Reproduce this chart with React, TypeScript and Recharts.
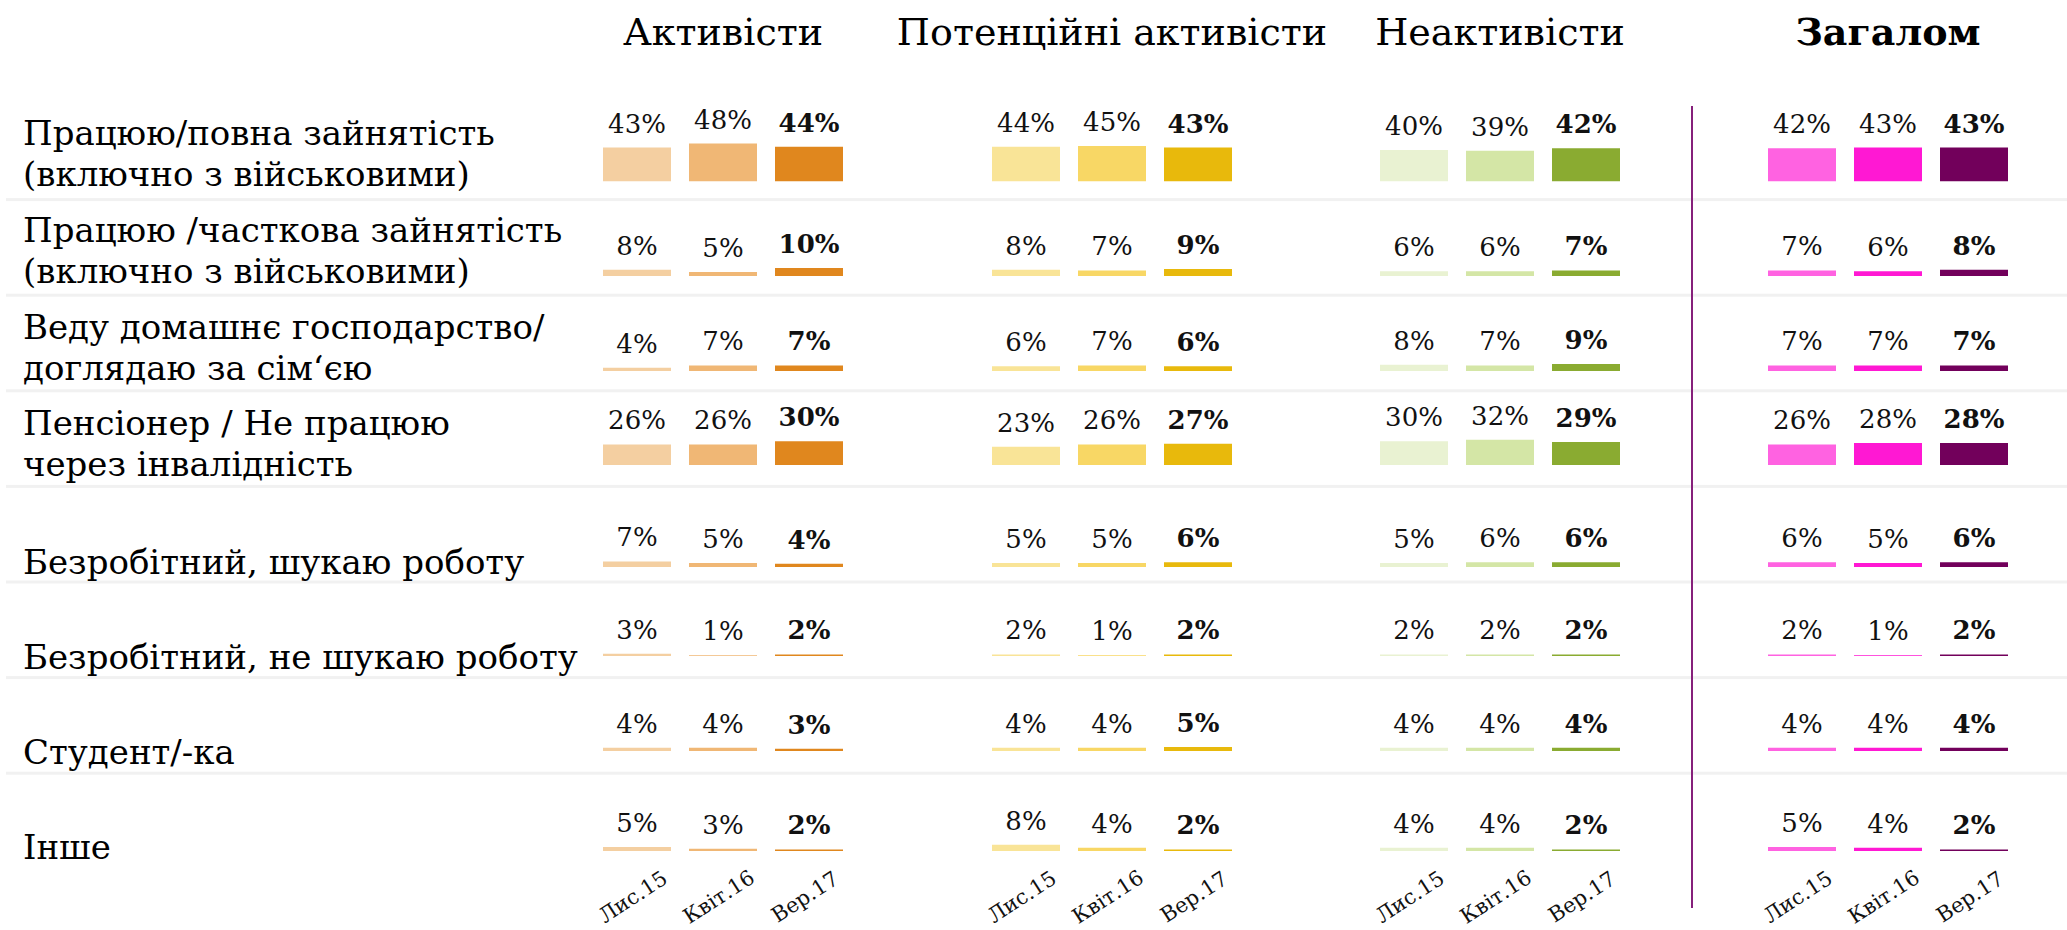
import React from 'react';
import { Bar, BarChart, Cell, LabelList, XAxis, YAxis } from 'recharts';

const FONT = '"DejaVu Serif", Georgia, serif';

// data
const periods = ['Лис.15', 'Квіт.16', 'Вер.17'];
const groups = ['Активісти', 'Потенційні активісти', 'Неактивісти', 'Загалом'];
const rowLabels = [
  ['Працюю/повна зайнятість', '(включно з військовими)'],
  ['Працюю /часткова зайнятість', '(включно з військовими)'],
  ['Веду домашнє господарство/', 'доглядаю за сім‘єю'],
  ['Пенсіонер / Не працюю', 'через інвалідність'],
  ['Безробітний, шукаю роботу'],
  ['Безробітний, не шукаю роботу'],
  ['Студент/-ка'],
  ['Інше'],
];
const activists = [[43, 48, 44], [8, 5, 10], [4, 7, 7], [26, 26, 30], [7, 5, 4], [3, 1, 2], [4, 4, 3], [5, 3, 2]];
const potential = [[44, 45, 43], [8, 7, 9], [6, 7, 6], [23, 26, 27], [5, 5, 6], [2, 1, 2], [4, 4, 5], [8, 4, 2]];
const inactive = [[40, 39, 42], [6, 6, 7], [8, 7, 9], [30, 32, 29], [5, 6, 6], [2, 2, 2], [4, 4, 4], [4, 4, 2]];
const total = [[42, 43, 43], [7, 6, 8], [7, 7, 7], [26, 28, 28], [6, 5, 6], [2, 1, 2], [4, 4, 4], [5, 4, 2]];
const groupValues = [activists, potential, inactive, total];

const palettes = [
  ['#F4CFA1', '#F0B775', '#E0871E'],
  ['#F9E497', '#F8D765', '#E8B90C'],
  ['#E9F2D2', '#D4E6A6', '#8AAB31'],
  ['#FF62E1', '#FF18D3', '#72005B'],
];

// layout
const ROW_TOP0 = 103.5;
const ROW_H = 95.6;
const BASE_OFF = [77.5, 77, 76, 75, 81, 74, 74, 78];
const LABEL_BASE = [82, 84, 85, 86, 88, 87, 87, 86];
const PX_PER_PCT = 0.79;
const GROUP_CX = [723, 1112, 1500, 1888];
const BAND = 86;
const SIDE = 24;
const AXIS_H = 78.5;

const renderTick = (props: any) => {
  const { x, y, payload } = props;
  const cx = x - 4;
  const cy = y + 46;
  return (
    <text
      x={cx}
      y={cy}
      textAnchor="middle"
      dominantBaseline="central"
      transform={`rotate(-33 ${cx} ${cy})`}
      fontFamily={FONT}
      fontSize={21}
      fill="#111"
    >
      {payload.value}
    </text>
  );
};

const renderValue = (props: any) => {
  const { x, y, width, value, index } = props;
  return (
    <text
      x={Number(x) + Number(width) / 2}
      y={Number(y) - 15}
      textAnchor="middle"
      fontFamily={FONT}
      fontSize={26}
      fontWeight={index === 2 ? 'bold' : 'normal'}
      fill="#111"
    >
      {value}%
    </text>
  );
};

function CellChart({ g, r }: { g: number; r: number }) {
  const values = groupValues[g][r];
  const data = periods.map((p, i) => ({ p, v: values[i] }));
  const last = r === rowLabels.length - 1;
  const base = BASE_OFF[r];
  const height = last ? base + AXIS_H : base + 4;
  const top = ROW_TOP0 + ROW_H * r;
  return (
    <div style={{ position: 'absolute', left: GROUP_CX[g] - BAND * 1.5 - SIDE, top }}>
      <BarChart
        width={BAND * 3 + SIDE * 2}
        height={height}
        data={data}
        margin={{ top: 0, right: SIDE, bottom: last ? 0 : 4, left: SIDE }}
      >
        <XAxis
          dataKey="p"
          hide={!last}
          height={AXIS_H}
          interval={0}
          axisLine={false}
          tickLine={false}
          tickSize={0}
          tickMargin={0}
          tick={renderTick}
        />
        <YAxis hide type="number" domain={[0, base / PX_PER_PCT]} allowDataOverflow />
        <Bar dataKey="v" barSize={68} isAnimationActive={false}>
          {data.map((d, i) => (
            <Cell key={d.p} fill={palettes[g][i]} />
          ))}
          <LabelList dataKey="v" content={renderValue} />
        </Bar>
      </BarChart>
    </div>
  );
}

export default function App() {
  return (
    <div style={{ position: 'absolute', left: 0, top: 0, width: 2067, height: 930, background: '#fff', overflow: 'hidden' }}>
      <svg width={2067} height={930} style={{ position: 'absolute', left: 0, top: 0 }}>
        {rowLabels.slice(0, -1).map((_, r) => (
          <rect key={r} x={6} y={ROW_TOP0 + ROW_H * (r + 1) - 1} width={2061} height={3} fill="#F1F1F1" />
        ))}
        {groups.map((name, g) => (
          <text
            key={name}
            x={GROUP_CX[g]}
            y={45}
            textAnchor="middle"
            fontFamily={FONT}
            fontSize={38}
            fontWeight={g === 3 ? 'bold' : 'normal'}
            fill="#000"
          >
            {name}
          </text>
        ))}
        {rowLabels.map((lines, r) => {
          const lastY = ROW_TOP0 + ROW_H * r + LABEL_BASE[r];
          return lines.map((line, i) => (
            <text
              key={`${r}-${i}`}
              x={23}
              y={lastY - (lines.length - 1 - i) * 41}
              fontFamily={FONT}
              fontSize={34}
              fill="#000"
            >
              {line}
            </text>
          ));
        })}
        <line x1={1692} y1={106} x2={1692} y2={908} stroke="#86207B" strokeWidth={2} />
      </svg>
      {groups.map((_, g) => rowLabels.map((__, r) => <CellChart key={`${g}-${r}`} g={g} r={r} />))}
    </div>
  );
}
